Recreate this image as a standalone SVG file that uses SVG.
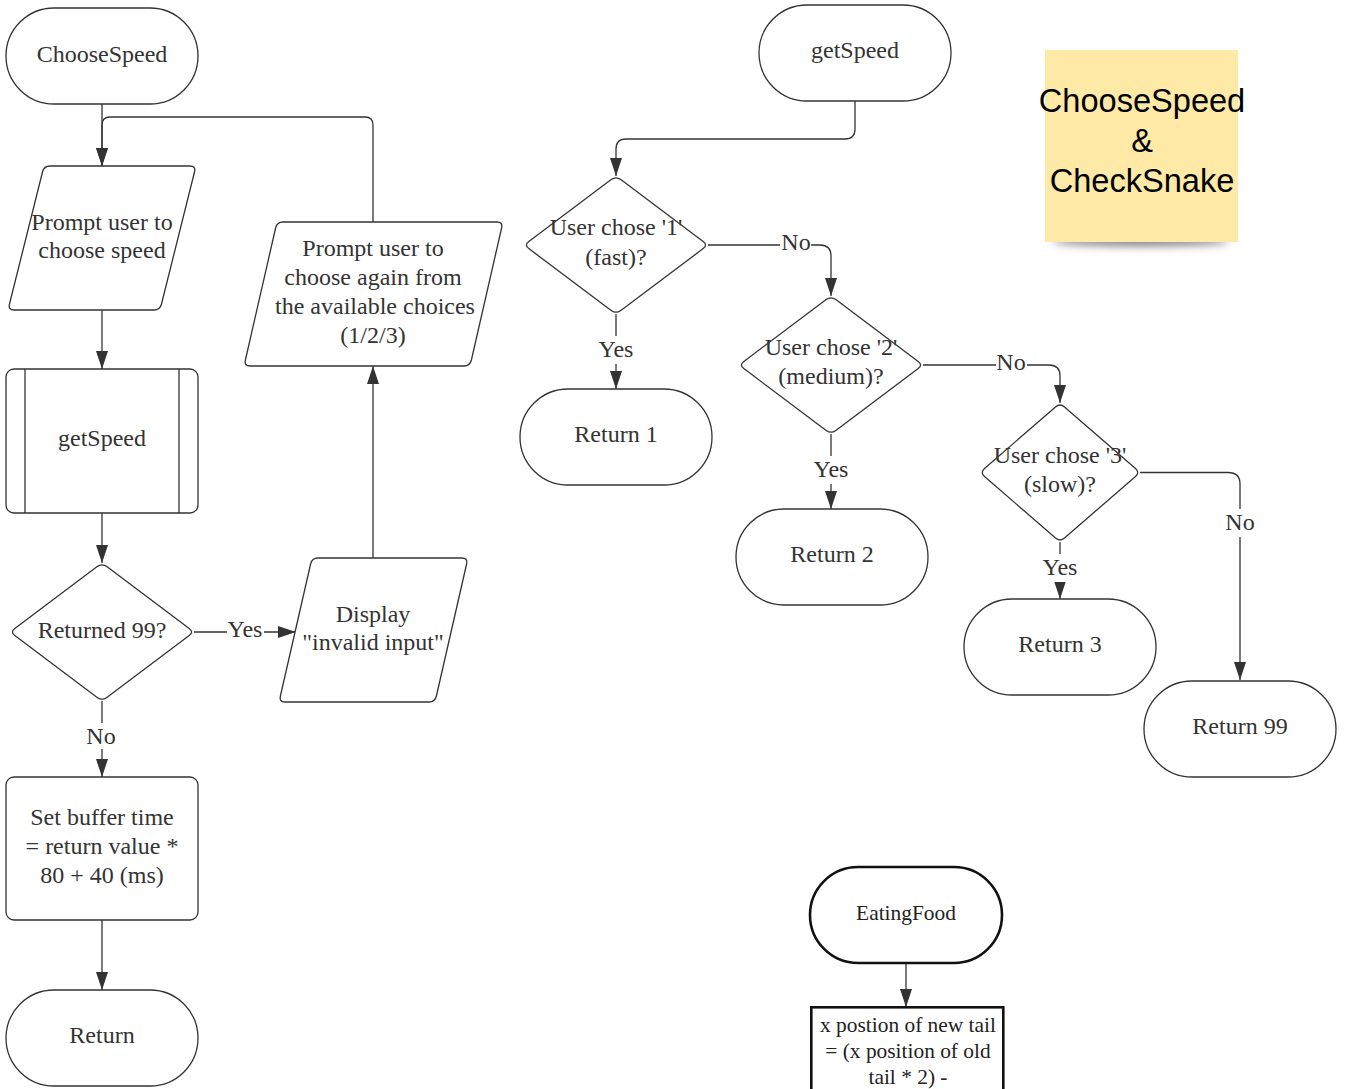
<svg xmlns="http://www.w3.org/2000/svg" width="1349" height="1089" viewBox="0 0 1349 1089">
  <style>
    .shape { fill: #ffffff; stroke: #333333; stroke-width: 1.3; }
    .bold { fill: #ffffff; stroke: #111111; stroke-width: 2.6; }
    .t { font-family: "Liberation Serif", "Times New Roman", serif; font-size: 24px; fill: #333333; text-anchor: middle; }
    .ts { font-family: "Liberation Serif", "Times New Roman", serif; font-size: 21.4px; fill: #222222; text-anchor: middle; }
    .note { font-family: "Liberation Sans", Arial, sans-serif; font-size: 32.6px; fill: #000000; text-anchor: middle; }
    .edge { fill: none; stroke: #333333; stroke-width: 1.3; }
    .lbg { fill: #ffffff; }
  </style>
  <defs>
    <marker id="arrow" markerUnits="userSpaceOnUse" markerWidth="18" markerHeight="12" refX="18" refY="6" orient="auto">
      <path d="M0 0 L18 6 L0 12 Z" fill="#333333"/>
    </marker>
    <filter id="soft" x="-20%" y="-200%" width="140%" height="500%">
      <feGaussianBlur stdDeviation="4"/>
    </filter>
  </defs>

  <rect width="1349" height="1089" fill="#ffffff"/>

  <!-- connectors -->
  <g id="connectors">
    <path class="edge" d="M102 104 V166" marker-end="url(#arrow)"/>
    <path class="edge" d="M373 222 V125 Q373 117 365 117 H110 Q102 117 102 125 V166" marker-end="url(#arrow)"/>
    <path class="edge" d="M102 310 V369" marker-end="url(#arrow)"/>
    <path class="edge" d="M102 513 V563" marker-end="url(#arrow)"/>
    <path class="edge" d="M194 632 H296" marker-end="url(#arrow)"/>
    <path class="edge" d="M373 558 V366" marker-end="url(#arrow)"/>
    <path class="edge" d="M102 701 V777" marker-end="url(#arrow)"/>
    <path class="edge" d="M102 920 V990" marker-end="url(#arrow)"/>

    <path class="edge" d="M855 101 V129 Q855 139 845 139 H626 Q616 139 616 149 V176" marker-end="url(#arrow)"/>
    <path class="edge" d="M708 245 H820 Q831 245 831 256 V296" marker-end="url(#arrow)"/>
    <path class="edge" d="M616 314 V389" marker-end="url(#arrow)"/>
    <path class="edge" d="M923 365 H1049 Q1060 365 1060 376 V403" marker-end="url(#arrow)"/>
    <path class="edge" d="M831 434 V509" marker-end="url(#arrow)"/>
    <path class="edge" d="M1140 472.5 H1228 Q1240 472.5 1240 484 V680" marker-end="url(#arrow)"/>
    <path class="edge" d="M1060 542 V599" marker-end="url(#arrow)"/>
    <path class="edge" d="M906 963 V1007" marker-end="url(#arrow)"/>

    <!-- branch labels -->
    <rect class="lbg" x="227" y="617" width="37" height="26"/>
    <text class="t" x="245" y="637">Yes</text>
    <rect class="lbg" x="86" y="723" width="31" height="26"/>
    <text class="t" x="101" y="744">No</text>
    <rect class="lbg" x="780" y="230" width="31" height="26"/>
    <text class="t" x="796" y="250">No</text>
    <rect class="lbg" x="597" y="336" width="38" height="28"/>
    <text class="t" x="616" y="357">Yes</text>
    <rect class="lbg" x="996" y="350" width="31" height="26"/>
    <text class="t" x="1011" y="370">No</text>
    <rect class="lbg" x="812" y="456" width="38" height="28"/>
    <text class="t" x="831" y="477">Yes</text>
    <rect class="lbg" x="1041" y="554" width="38" height="28"/>
    <text class="t" x="1060" y="575">Yes</text>
    <rect class="lbg" x="1224" y="509" width="32" height="28"/>
    <text class="t" x="1240" y="530">No</text>
  </g>

  <!-- ChooseSpeed flow -->
  <g id="choose-speed">
    <rect class="shape" x="6" y="8" width="192" height="96" rx="48" ry="48"/>
    <text class="t" x="102" y="62">ChooseSpeed</text>
  </g>
  <g id="prompt-speed">
    <path class="shape" d="M50 166 H190 Q196 166 194.5 172 L161.5 304 Q160 310 154 310 H14 Q8 310 9.5 304 L42.5 172 Q44 166 50 166 Z"/>
    <text class="t" x="102" y="230">Prompt user to</text>
    <text class="t" x="102" y="258">choose speed</text>
  </g>
  <g id="call-getspeed">
    <rect class="shape" x="6" y="369" width="192" height="144" rx="8" ry="8"/>
    <line class="shape" x1="25" y1="369" x2="25" y2="513"/>
    <line class="shape" x1="179" y1="369" x2="179" y2="513"/>
    <text class="t" x="102" y="446">getSpeed</text>
  </g>
  <g id="returned-99">
    <path class="shape" d="M97.2 566.6 Q102 563 106.8 566.6 L189.2 628.4 Q194 632 189.2 635.6 L106.8 697.4 Q102 701 97.2 697.4 L14.8 635.6 Q10 632 14.8 628.4 Z"/>
    <text class="t" x="102" y="638">Returned 99?</text>
  </g>
  <g id="display-invalid">
    <path class="shape" d="M318 558 H462 Q468 558 466.6 564 L436.4 696 Q435 702 429 702 H285 Q279 702 280.4 696 L310.6 564 Q312 558 318 558 Z"/>
    <text class="t" x="373" y="622">Display</text>
    <text class="t" x="373" y="650">"invalid input"</text>
  </g>
  <g id="prompt-again">
    <path class="shape" d="M283 222 H497 Q503 222 501.6 228 L471.4 360 Q470 366 464 366 H250 Q244 366 245.4 360 L275.6 228 Q277 222 283 222 Z"/>
    <text class="t" x="373" y="256">Prompt user to</text>
    <text class="t" x="373" y="285">choose again from</text>
    <text class="t" x="375" y="314">the available choices</text>
    <text class="t" x="373" y="343">(1/2/3)</text>
  </g>
  <g id="set-buffer">
    <rect class="shape" x="6" y="777" width="192" height="143" rx="8" ry="8"/>
    <text class="t" x="102" y="825">Set buffer time</text>
    <text class="t" x="102" y="854">= return value *</text>
    <text class="t" x="102" y="883">80 + 40 (ms)</text>
  </g>
  <g id="return">
    <rect class="shape" x="6" y="990" width="192" height="96" rx="48" ry="48"/>
    <text class="t" x="102" y="1043">Return</text>
  </g>

  <!-- getSpeed flow -->
  <g id="getspeed">
    <rect class="shape" x="759" y="5" width="192" height="96" rx="48" ry="48"/>
    <text class="t" x="855" y="58">getSpeed</text>
  </g>
  <g id="chose-1">
    <path class="shape" d="M611.2 179.6 Q616 176 620.8 179.6 L703.2 241.4 Q708 245 703.2 248.6 L620.8 310.4 Q616 314 611.2 310.4 L528.8 248.6 Q524 245 528.8 241.4 Z"/>
    <text class="t" x="616" y="235">User chose '1'</text>
    <text class="t" x="616" y="265">(fast)?</text>
  </g>
  <g id="return-1">
    <rect class="shape" x="520" y="389" width="192" height="96" rx="48" ry="48"/>
    <text class="t" x="616" y="442">Return 1</text>
  </g>
  <g id="chose-2">
    <path class="shape" d="M826.2 299.6 Q831 296 835.8 299.6 L918.2 361.4 Q923 365 918.2 368.6 L835.8 430.4 Q831 434 826.2 430.4 L743.8 368.6 Q739 365 743.8 361.4 Z"/>
    <text class="t" x="831" y="355">User chose '2'</text>
    <text class="t" x="831" y="384">(medium)?</text>
  </g>
  <g id="return-2">
    <rect class="shape" x="736" y="509" width="192" height="96" rx="48" ry="48"/>
    <text class="t" x="832" y="562">Return 2</text>
  </g>
  <g id="chose-3">
    <path class="shape" d="M1055.5 406.9 Q1060 403 1064.5 406.9 L1135.5 468.6 Q1140 472.5 1135.5 476.4 L1064.5 538.1 Q1060 542 1055.5 538.1 L984.5 476.4 Q980 472.5 984.5 468.6 Z"/>
    <text class="t" x="1060" y="463">User chose '3'</text>
    <text class="t" x="1060" y="492">(slow)?</text>
  </g>
  <g id="return-3">
    <rect class="shape" x="964" y="599" width="192" height="96" rx="48" ry="48"/>
    <text class="t" x="1060" y="652">Return 3</text>
  </g>
  <g id="return-99">
    <rect class="shape" x="1144" y="681" width="192" height="96" rx="48" ry="48"/>
    <text class="t" x="1240" y="734">Return 99</text>
  </g>

  <!-- EatingFood flow -->
  <g id="eating-food">
    <rect class="bold" x="810" y="867" width="192" height="96" rx="48" ry="48"/>
    <text class="ts" x="906" y="920">EatingFood</text>
  </g>
  <g id="new-tail-x">
    <rect class="bold" x="811.3" y="1007.3" width="192" height="100"/>
    <text class="ts" x="908" y="1032">x postion of new tail</text>
    <text class="ts" x="908" y="1058">= (x position of old</text>
    <text class="ts" x="908" y="1084">tail * 2) -</text>
  </g>

  <!-- title note -->
  <g id="title-note">
    <ellipse cx="1141" cy="241" rx="88" ry="5" fill="#7a7a7a" filter="url(#soft)"/>
    <rect x="1045" y="50" width="193" height="192" fill="#fee9a6"/>
    <text class="note" x="1142" y="112">ChooseSpeed</text>
    <text class="note" x="1142" y="152">&amp;</text>
    <text class="note" x="1142" y="192">CheckSnake</text>
  </g>
</svg>
